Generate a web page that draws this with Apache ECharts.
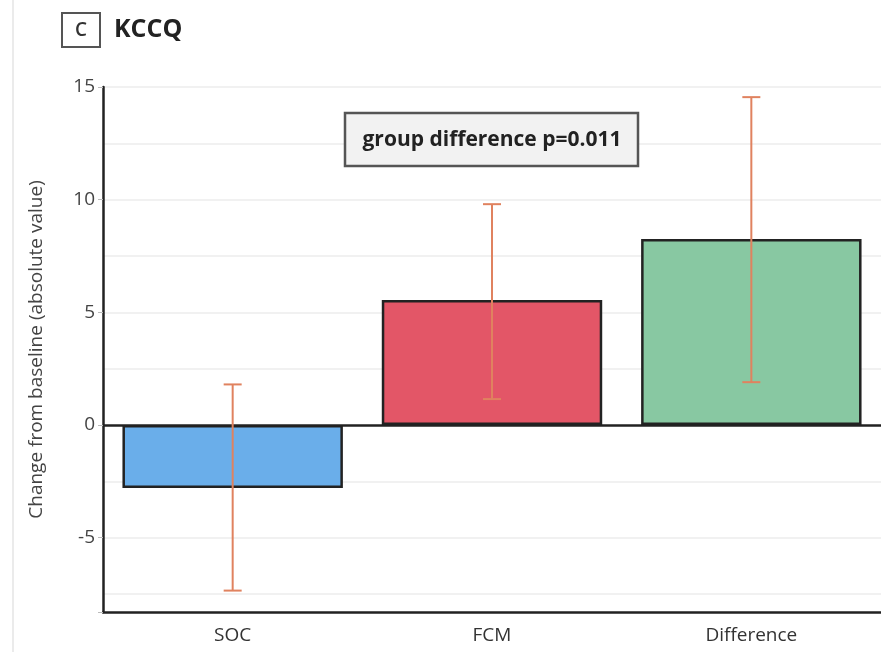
<!DOCTYPE html>
<html><head><meta charset="utf-8">
<script src="https://cdn.jsdelivr.net/npm/echarts@6/dist/echarts.min.js"></script>
<style>html,body{margin:0;padding:0;background:#fff}#c{width:881px;height:652px}</style>
</head><body><div id="c"></div>
<script>
const categories = ['SOC', 'FCM', 'Difference'];
const means = [-2.8, 5.55, 8.25];
const ciLow = [-7.35, 1.15, 1.9];
const ciHigh = [1.8, 9.8, 14.55];
const barColors = ['#6aaeea', '#e35667', '#88c8a2'];
const yTickLabels = [-5, 0, 5, 10, 15];
const gridValues = [-7.5, -5, -2.5, 2.5, 5, 7.5, 10, 12.5, 15];
const annotation = 'group difference p=0.011';
const panelLetter = 'C';
const panelTitle = 'KCCQ';
const yName = 'Change from baseline (absolute value)';

const chart = echarts.init(document.getElementById('c'));
const font = "'Open Sans', 'Noto Sans', sans-serif";
chart.setOption({
  animation: false,
  grid: {left: 103, right: 0, top: 87, bottom: 40},
  xAxis: {
    type: 'category', data: categories,
    axisLine: {onZero: false, lineStyle: {color: '#222', width: 2.5}},
    axisTick: {alignWithLabel: true, length: 6, lineStyle: {color: '#bbb'}},
    axisLabel: {color: '#333', fontSize: 19, fontFamily: font, margin: 14}
  },
  yAxis: {
    type: 'value', min: -8.3, max: 15, splitNumber: 5,
    name: yName, nameLocation: 'middle', nameGap: 57, nameRotate: 90,
    nameTextStyle: {color: '#444', fontSize: 19, fontFamily: font},
    axisLine: {show: true, lineStyle: {color: '#222', width: 2.5}},
    axisTick: {show: true, length: 5, lineStyle: {color: '#bbb'}},
    splitLine: {show: false},
    axisLabel: {
      color: '#444', fontSize: 19, fontFamily: font, margin: 8,
      formatter: v => yTickLabels.some(t => Math.abs(t - v) < 1e-6) ? String(v) : ''
    }
  },
  series: [
    {
      type: 'line', data: [], silent: true, z: 0,
      markLine: {
        silent: true, symbol: 'none', label: {show: false}, z: 0,
        lineStyle: {color: '#ececec', width: 1.5, type: 'solid'},
        data: gridValues.map(v => ({yAxis: v}))
      }
    },
    {
      type: 'bar', barWidth: '85%',
      data: means.map((v, i) => ({value: v, itemStyle: {color: barColors[i]}})),
      itemStyle: {borderColor: '#222', borderWidth: 2.5},
      markLine: {
        silent: true, symbol: 'none', label: {show: false}, z: 4,
        lineStyle: {color: '#222', width: 2.5, type: 'solid'},
        data: [{yAxis: 0}]
      },
      z: 2
    },
    {
      type: 'custom', z: 5,
      data: categories.map((c, i) => [i, ciLow[i], ciHigh[i]]),
      renderItem: function (params, api) {
        const lo = api.coord([api.value(0), api.value(1)]);
        const hi = api.coord([api.value(0), api.value(2)]);
        const w = 9;
        const st = {stroke: '#e0825f', lineWidth: 2};
        return {type: 'group', children: [
          {type: 'line', shape: {x1: lo[0], y1: lo[1], x2: hi[0], y2: hi[1]}, style: st},
          {type: 'line', shape: {x1: lo[0] - w, y1: lo[1], x2: lo[0] + w, y2: lo[1]}, style: st},
          {type: 'line', shape: {x1: hi[0] - w, y1: hi[1], x2: hi[0] + w, y2: hi[1]}, style: st}
        ]};
      }
    }
  ],
  graphic: [
    {type: 'line', shape: {x1: 13, y1: 0, x2: 13, y2: 652}, style: {stroke: '#e4e4e4', lineWidth: 1.5}},
    {type: 'rect', shape: {x: 62, y: 13, width: 38, height: 34}, style: {fill: '#fff', stroke: '#555', lineWidth: 2}},
    {type: 'text', style: {x: 81, y: 31, text: panelLetter, fill: '#333', font: "600 19px 'Open Sans', sans-serif", align: 'center', verticalAlign: 'middle'}},
    {type: 'text', style: {x: 114, y: 30, text: panelTitle, fill: '#222', font: "bold 25px 'Open Sans', sans-serif", verticalAlign: 'middle'}},
    {type: 'rect', shape: {x: 345, y: 113, width: 293, height: 53}, style: {fill: '#f2f2f2', stroke: '#555', lineWidth: 2.5}, z: 10},
    {type: 'text', style: {x: 492, y: 140, text: annotation, fill: '#222', font: "bold 21px 'Open Sans', sans-serif", align: 'center', verticalAlign: 'middle'}, z: 11}
  ]
});
</script></body></html>
